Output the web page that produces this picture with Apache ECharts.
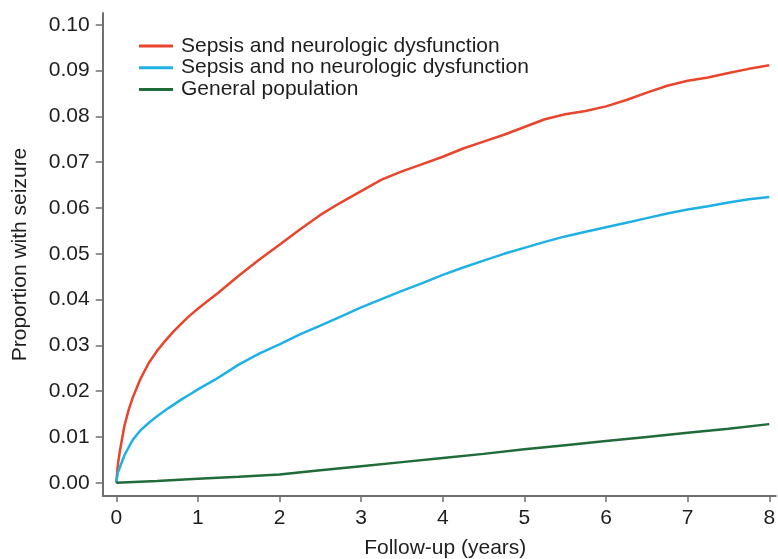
<!DOCTYPE html>
<html><head><meta charset="utf-8">
<script src="https://cdn.jsdelivr.net/npm/echarts@6/dist/echarts.min.js"></script>
<style>html,body{margin:0;padding:0;background:#fff}#c{width:778px;height:559px}</style>
</head><body><div id="c"></div>
<script>
const seriesNames = ['Sepsis and neurologic dysfunction', 'Sepsis and no neurologic dysfunction', 'General population'];
const xTicks = [0, 1, 2, 3, 4, 5, 6, 7, 8];
const yTicks = [0, 0.01, 0.02, 0.03, 0.04, 0.05, 0.06, 0.07, 0.08, 0.09, 0.10];

const redT = [0, 0.02, 0.047, 0.1, 0.15, 0.2, 0.3, 0.4, 0.5, 0.6, 0.7, 0.8, 0.9, 1.0, 1.1, 1.25, 1.5, 1.75, 2.0, 2.25, 2.5, 2.75, 3.0, 3.25, 3.5, 3.75, 4.0, 4.25, 4.5, 4.75, 5.0, 5.25, 5.5, 5.75, 6.0, 6.25, 6.5, 6.75, 7.0, 7.25, 7.5, 7.75, 8.0];
const redV = [0, 0.0040, 0.0072, 0.0124, 0.0158, 0.0185, 0.0228, 0.0262, 0.0288, 0.0310, 0.0330, 0.0348, 0.0365, 0.0380, 0.0394, 0.0415, 0.0452, 0.0487, 0.0520, 0.0553, 0.0585, 0.0612, 0.0637, 0.0662, 0.0680, 0.0696, 0.0712, 0.0730, 0.0745, 0.0760, 0.0777, 0.0794, 0.0805, 0.0812, 0.0822, 0.0836, 0.0852, 0.0867, 0.0878, 0.0885, 0.0895, 0.0904, 0.0912];

const blueT = [0, 0.02, 0.047, 0.1, 0.2, 0.3, 0.4, 0.5, 0.64, 0.8, 0.92, 1.0, 1.21, 1.5, 1.75, 2.0, 2.25, 2.5, 2.75, 3.0, 3.25, 3.5, 3.75, 4.0, 4.25, 4.5, 4.75, 5.0, 5.25, 5.5, 5.75, 6.0, 6.25, 6.5, 6.75, 7.0, 7.25, 7.5, 7.75, 8.0];
const blueV = [0, 0.0022, 0.0035, 0.0060, 0.0093, 0.0115, 0.0131, 0.0145, 0.0163, 0.0182, 0.0195, 0.0204, 0.0225, 0.0258, 0.0282, 0.0302, 0.0324, 0.0343, 0.0363, 0.0383, 0.0401, 0.0419, 0.0436, 0.0454, 0.0470, 0.0485, 0.0500, 0.0513, 0.0526, 0.0538, 0.0548, 0.0558, 0.0568, 0.0578, 0.0588, 0.0597, 0.0604, 0.0612, 0.0619, 0.0624];

const greenT = [0, 0.5, 1, 1.5, 2, 2.5, 3, 3.5, 4, 4.5, 5, 5.5, 6, 6.5, 7, 7.5, 8];
const greenV = [0, 0.0004, 0.00085, 0.0013, 0.0018, 0.0027, 0.0036, 0.0045, 0.0054, 0.0063, 0.0073, 0.0082, 0.0091, 0.0100, 0.0109, 0.0118, 0.0128];

const colors = ['#e8452c', '#1fb0e6', '#1f6b3a'];
const zip = (t, v) => t.map((x, i) => [x, v[i]]);
const FONT = 'Liberation Sans, Arial, sans-serif';
const TXT = '#1e1e1e';
const AX = '#6f6f6f';

const chart = echarts.init(document.getElementById('c'));
chart.setOption({
  animation: false,
  backgroundColor: '#fff',
  grid: { left: 102.7, right: 2.2, top: 13, bottom: 63, containLabel: false, outerBoundsMode: 'none' },
  legend: {
    left: 134, top: 30.5, orient: 'vertical', itemGap: 0.7,
    itemWidth: 34, itemHeight: 3, icon: 'rect',
    textStyle: { fontFamily: FONT, fontSize: 21, color: TXT, lineHeight: 21, padding: [0, 0, 0, 3] },
    data: seriesNames
  },
  xAxis: {
    type: 'value', min: -0.166, max: 8.08,
    name: 'Follow-up (years)', nameLocation: 'middle', nameGap: 42,
    nameTextStyle: { fontFamily: FONT, fontSize: 21, color: TXT, padding: [0, 0, 0, 12] },
    axisLine: { show: true, onZero: false, lineStyle: { color: AX, width: 2 } },
    axisTick: { show: true, customValues: xTicks, length: 6, lineStyle: { color: AX, width: 1.5 } },
    axisLabel: { customValues: xTicks, margin: 12, fontFamily: FONT, fontSize: 21, color: TXT },
    splitLine: { show: false }
  },
  yAxis: {
    type: 'value', min: -0.0029, max: 0.1026,
    name: 'Proportion with seizure', nameLocation: 'middle', nameGap: 72,
    nameTextStyle: { fontFamily: FONT, fontSize: 21, color: TXT },
    axisLine: { show: true, onZero: false, lineStyle: { color: AX, width: 2 } },
    axisTick: { show: true, customValues: yTicks, length: 7, lineStyle: { color: AX, width: 1.5 } },
    axisLabel: { customValues: yTicks, margin: 13, fontFamily: FONT, fontSize: 21, color: TXT,
      formatter: v => v.toFixed(2) },
    splitLine: { show: false }
  },
  series: [
    { name: seriesNames[0], type: 'line', data: zip(redT, redV), showSymbol: false, smooth: false, color: colors[0], lineStyle: { width: 2.5 } },
    { name: seriesNames[1], type: 'line', data: zip(blueT, blueV), showSymbol: false, smooth: false, color: colors[1], lineStyle: { width: 2.5 } },
    { name: seriesNames[2], type: 'line', data: zip(greenT, greenV), showSymbol: false, smooth: false, color: colors[2], lineStyle: { width: 2.5 } }
  ]
});
</script></body></html>
